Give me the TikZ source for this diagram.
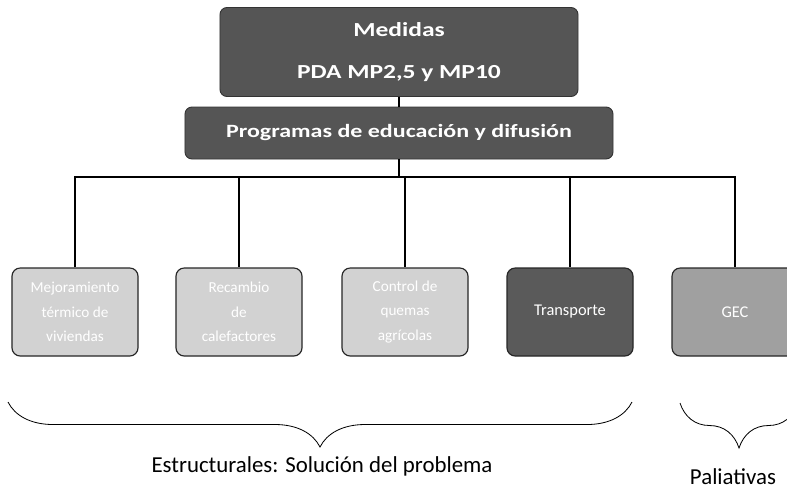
\documentclass[tikz,border=0pt]{standalone}
\usepackage{fontspec}
\setmainfont{Carlito}
\newfontfamily\widefont{Carlito}[FakeStretch=1.28]
\usetikzlibrary{decorations.pathreplacing}
\definecolor{headgray}{HTML}{555555}
\definecolor{lightgray}{HTML}{D2D2D2}
\definecolor{darkgray}{HTML}{5A5A5A}
\definecolor{midgray}{HTML}{A0A0A0}
\newcommand{\busy}{177}
\newcommand{\boxy}{312}

\begin{document}
\begin{tikzpicture}[x=0.03cm, y=-0.03cm]
  \tikzset{header/.style={draw=black!80, fill=headgray, rounded corners=6pt, line width=0.8pt, text=white, align=center}}
  \tikzset{measure/.style={draw=black!85, line width=1pt, rounded corners=7pt, minimum width=3.78cm, minimum height=2.64cm, align=center, text=white, font=\fontsize{13}{21}\selectfont}}
  \tikzset{bracelabel/.style={inner sep=1pt, font=\fontsize{19.5}{22}\selectfont}}
  \useasboundingbox (0,0) rectangle (787,490);
  \node[header, minimum width=10.74cm, minimum height=2.67cm, font=\widefont\fontsize{17}{36}\selectfont\bfseries] (medidas) at (399,52) {Medidas\\PDA MP2,5 y MP10};
  \node[header, minimum width=12.84cm, minimum height=1.56cm, font=\widefont\fontsize{16}{19}\selectfont\bfseries] (programas) at (399,133) {Programas de educación y difusión};
  \node[measure, fill=lightgray] (viviendas) at (75,\boxy) {Mejoramiento\\térmico de\\viviendas};
  \node[measure, fill=lightgray] (calefaccion) at (239,\boxy) {Recambio\\de\\calefactores};
  \node[measure, fill=lightgray] (quemas) at (405,\boxy) {Control de\\quemas\\agrícolas};
  \node[measure, fill=darkgray, font=\fontsize{14}{16}\selectfont] (transporte) at (570,\boxy) {Transporte};
  \node[measure, fill=midgray, font=\fontsize{14}{16}\selectfont] (gec) at (735,\boxy) {GEC};
  \coordinate (bus) at (0,\busy);
  \draw[line width=1pt] (medidas) -- (programas);
  \draw[line width=1pt] (programas) -- (programas |- bus);
  \draw[line width=1pt] (viviendas.north) -- (viviendas.north |- bus) -- (gec.north |- bus) -- (gec.north);
  \foreach \b in {calefaccion, quemas, transporte}
    \draw[line width=1pt] (bus -| \b.north) -- (\b.north);
  % llaves
  \coordinate (estA) at (8,402);
  \coordinate (estB) at (632,402);
  \coordinate (palA) at (680,403);
  \coordinate (palB) at (798,403);
  \draw[decorate, decoration={brace, amplitude=1.35cm}, line width=0.7pt] (estB) -- (estA);
  \draw[decorate, decoration={brace, amplitude=1.35cm}, line width=0.7pt] (palB) -- (palA);
  \node[bracelabel] (estructurales) at (322,466) {Estructurales: Solución del problema};
  \node[bracelabel] (paliativas) at (733,477) {Paliativas};
\end{tikzpicture}
\end{document}
